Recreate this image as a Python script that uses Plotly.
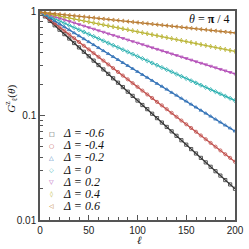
import plotly.graph_objects as go

ell = [0, 5, 10, 15, 20, 25, 30, 35, 40, 45, 50, 55, 60, 65, 70, 75, 80, 85, 90, 95, 100,
       105, 110, 115, 120, 125, 130, 135, 140, 145, 150, 155, 160, 165, 170, 175, 180, 185, 190, 195, 200]

g_m06 = [0.977, 0.887, 0.804, 0.730, 0.662, 0.601, 0.545, 0.494, 0.448, 0.407, 0.369,
         0.335, 0.304, 0.276, 0.250, 0.227, 0.206, 0.187, 0.169, 0.154, 0.139,
         0.126, 0.115, 0.104, 0.0944, 0.0856, 0.0777, 0.0705, 0.0639, 0.0580, 0.0526,
         0.0477, 0.0433, 0.0393, 0.0356, 0.0323, 0.0293, 0.0266, 0.0241, 0.0219, 0.0199]
g_m04 = [0.977, 0.900, 0.829, 0.763, 0.703, 0.647, 0.596, 0.549, 0.505, 0.465, 0.429,
         0.395, 0.364, 0.335, 0.308, 0.284, 0.261, 0.241, 0.222, 0.204, 0.188,
         0.173, 0.159, 0.147, 0.135, 0.125, 0.115, 0.106, 0.0972, 0.0895, 0.0824,
         0.0759, 0.0699, 0.0644, 0.0593, 0.0546, 0.0503, 0.0463, 0.0426, 0.0393, 0.0361]
g_m02 = [0.977, 0.915, 0.857, 0.803, 0.752, 0.704, 0.659, 0.617, 0.578, 0.541, 0.507,
         0.475, 0.445, 0.416, 0.390, 0.365, 0.342, 0.320, 0.300, 0.281, 0.263,
         0.246, 0.231, 0.216, 0.202, 0.190, 0.178, 0.166, 0.156, 0.146, 0.137,
         0.128, 0.120, 0.112, 0.105, 0.0983, 0.0921, 0.0862, 0.0807, 0.0756, 0.0708]
g_0 = [0.977, 0.931, 0.886, 0.844, 0.804, 0.766, 0.729, 0.694, 0.661, 0.630, 0.600,
       0.571, 0.544, 0.518, 0.493, 0.470, 0.448, 0.426, 0.406, 0.387, 0.368,
       0.351, 0.334, 0.318, 0.303, 0.288, 0.275, 0.262, 0.249, 0.237, 0.226,
       0.215, 0.205, 0.195, 0.186, 0.177, 0.169, 0.161, 0.153, 0.146, 0.139]
g_p02 = [0.977, 0.945, 0.913, 0.882, 0.853, 0.824, 0.797, 0.770, 0.744, 0.719, 0.695,
         0.672, 0.649, 0.628, 0.606, 0.586, 0.567, 0.548, 0.529, 0.511, 0.494,
         0.478, 0.462, 0.446, 0.431, 0.417, 0.403, 0.389, 0.376, 0.364, 0.352,
         0.340, 0.328, 0.317, 0.307, 0.297, 0.287, 0.277, 0.268, 0.259, 0.250]
g_p04 = [0.977, 0.956, 0.936, 0.916, 0.896, 0.877, 0.858, 0.840, 0.822, 0.804, 0.787,
         0.770, 0.754, 0.738, 0.722, 0.706, 0.691, 0.676, 0.662, 0.648, 0.634,
         0.620, 0.607, 0.594, 0.581, 0.569, 0.557, 0.545, 0.533, 0.522, 0.511,
         0.500, 0.489, 0.478, 0.468, 0.458, 0.448, 0.439, 0.429, 0.420, 0.411]
g_p06 = [0.977, 0.966, 0.955, 0.944, 0.933, 0.923, 0.912, 0.902, 0.891, 0.881, 0.871,
         0.861, 0.851, 0.841, 0.832, 0.822, 0.813, 0.804, 0.794, 0.785, 0.776,
         0.767, 0.759, 0.750, 0.741, 0.733, 0.724, 0.716, 0.708, 0.700, 0.692,
         0.684, 0.676, 0.668, 0.661, 0.653, 0.646, 0.638, 0.631, 0.624, 0.617]

series = [g_m06, g_m04, g_m02, g_0, g_p02, g_p04, g_p06]
labels = ["-0.6", "-0.4", "-0.2", "0", "0.2", "0.4", "0.6"]
colors = ["#333333", "#c0504d", "#2f6fb5", "#2bb0b0", "#b44fb8", "#b9b434", "#b87a30"]
symbols = ["square-open", "circle-open", "triangle-up-open", "diamond-open",
           "triangle-down-open", "diamond-tall-open", "triangle-left-open"]
glyphs = ["□", "○", "△", "◇", "▽", "◊", "◁"]

fig = go.Figure()
for ys, lab, col, sym in zip(series, labels, colors, symbols):
    fig.add_trace(go.Scatter(
        x=ell, y=ys, mode="lines+markers", name="Δ = " + lab,
        line=dict(color=col, width=1.3),
        marker=dict(symbol=sym, size=3.2, color=col, line=dict(color=col, width=0.8)),
        showlegend=False,
    ))

axcol = "#555555"
fig.update_xaxes(
    range=[0, 200], dtick=50, ticks="inside", ticklen=5, tickwidth=1, tickcolor=axcol,
    showline=True, linecolor=axcol, linewidth=1.5, mirror=True, showgrid=False, zeroline=False,
    minor=dict(dtick=10, ticks="inside", ticklen=3, tickcolor=axcol),
    tickfont=dict(family="Liberation Sans", size=10, color="#222"),
)
fig.update_yaxes(
    type="log", range=[-2, 0], dtick=1, ticks="inside", ticklen=5, tickwidth=1, tickcolor=axcol,
    showline=True, linecolor=axcol, linewidth=1.5, mirror=True, showgrid=False, zeroline=False,
    minor=dict(dtick="D1", ticks="inside", ticklen=3, tickcolor=axcol),
    tickfont=dict(family="Liberation Sans", size=10, color="#222"),
    tickformat="~g",
)

ann = []
row0 = 131
for i, (lab, col, gl) in enumerate(zip(labels, colors, glyphs)):
    ypix = row0 + i * 12.4
    yp = (220 - ypix) / 214.5
    ann.append(dict(x=(52 - 40) / 199, y=yp, xref="paper", yref="paper", text=gl,
                    showarrow=False, xanchor="center", yanchor="middle",
                    font=dict(family="DejaVu Sans", size=6, color=col)))
    ann.append(dict(x=(61 - 40) / 199, y=yp, xref="paper", yref="paper",
                    text="<i>Δ = " + lab + "</i>", showarrow=False,
                    xanchor="left", yanchor="middle",
                    font=dict(family="Liberation Serif", size=12, color="#111")))
ann.append(dict(x=0.985, y=(220 - 14) / 214.5, xref="paper", yref="paper",
                text="<i>θ</i> = <b>π</b> / 4", showarrow=False, xanchor="right", yanchor="middle",
                font=dict(family="Liberation Serif", size=12, color="#111")))
ann.append(dict(x=(11 - 40) / 199, y=(220 - 96) / 214.5, xref="paper", yref="paper",
                text="<i>G</i><sup>z</sup><sub>ℓ</sub>(<i>θ</i>)", textangle=-90,
                showarrow=False, xanchor="center", yanchor="middle",
                font=dict(family="Liberation Serif", size=11, color="#111")))
ann.append(dict(x=(142 - 40) / 199, y=(220 - 241) / 214.5, xref="paper", yref="paper",
                text="<i>ℓ</i>", showarrow=False, xanchor="center", yanchor="middle",
                font=dict(family="DejaVu Serif", size=11, color="#111")))

fig.update_layout(
    width=249, height=249,
    margin=dict(l=40, r=10, t=5, b=29),
    paper_bgcolor="white", plot_bgcolor="white",
    annotations=ann,
)
fig.write_html("out.html", config={"displayModeBar": False},
               post_script="document.body.style.margin='0';document.body.style.overflow='hidden';")
